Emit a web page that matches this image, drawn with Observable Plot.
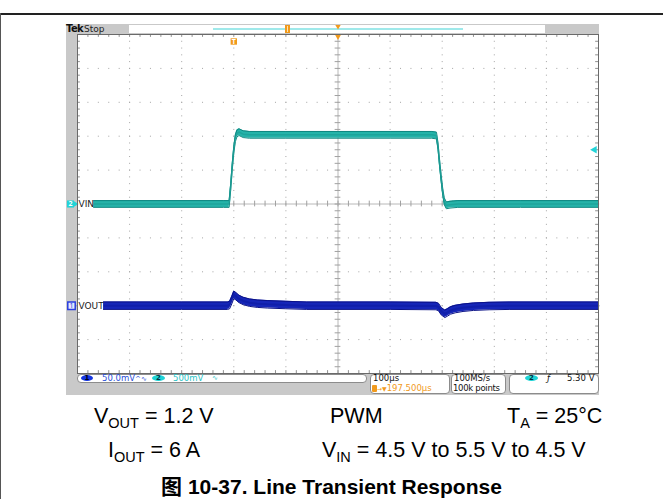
<!DOCTYPE html>
<html><head><meta charset="utf-8">
<script src="https://cdn.jsdelivr.net/npm/d3@7"></script>
<script src="https://cdn.jsdelivr.net/npm/@observablehq/plot@0.6"></script>
<style>
body{margin:0;background:#fff}
#page{position:relative;width:663px;height:499px;overflow:hidden;background:#fff;font-family:"Liberation Sans",Arial,"Noto Sans CJK SC",sans-serif}
.abs{position:absolute}
.st{position:absolute;font-family:"DejaVu Sans",sans-serif;font-size:8.5px;line-height:9px;white-space:nowrap;color:#111}
.box{position:absolute;background:#fff;border:1px solid #8c8c8c;border-radius:4px;box-sizing:border-box}
.ell{position:absolute;border-radius:50%;font-family:"DejaVu Sans",sans-serif;font-size:7px;line-height:6px;text-align:center;font-weight:bold}
.row{position:absolute;font-size:21.5px;line-height:22px;white-space:nowrap;color:#000}
.row .sb{font-size:14.5px;position:relative;top:5px}
#chart{position:absolute;left:0;top:0}
</style></head>
<body>
<div id="page">
  <div class="abs" style="left:0;top:13px;width:663px;height:2px;background:#222"></div>
  <div class="abs" style="left:0;top:13px;width:1px;height:486px;background:#555"></div>
  <div class="abs" style="left:66px;top:24px;width:533px;height:371px;background:#c9c9c9"></div>
  <div class="abs" style="left:129px;top:25px;width:416px;height:8px;background:#fff"></div>
  <div class="abs" style="left:213px;top:28px;width:250px;height:2px;background:#9fe9ea"></div>
  <div class="abs" style="left:285px;top:25px;width:5px;height:8px;background:#f19a1c"></div>
  <div class="abs" style="left:287px;top:26px;width:1px;height:6px;background:#ffe3b0"></div>
  <div class="st" style="left:66px;top:24px;font-size:10px;line-height:10px;font-weight:bold;letter-spacing:-0.6px">Tek</div>
  <div class="st" style="left:84px;top:24px;font-size:9px;line-height:10px;color:#222">Stop</div>
  <div id="chart"></div>

  <div class="box" style="left:77px;top:374px;width:290px;height:9px"></div>
  <div class="ell" style="left:81px;top:375px;width:12px;height:6px;background:#1435e0;color:#001">1</div>
  <div class="st" style="left:102px;top:374px;color:#2a4fd8">50.0mV<span style="font-size:7px">^∿</span></div>
  <div class="ell" style="left:152px;top:375px;width:13px;height:6px;background:#1ed3d6;color:#034">2</div>
  <div class="st" style="left:173px;top:374px;color:#2cc4c6">500mV</div>
  <div class="st" style="left:212px;top:374px;color:#2cc4c6;font-size:7px">∿</div>

  <div class="box" style="left:370px;top:374px;width:80px;height:20px"></div>
  <div class="st" style="left:373px;top:374px">100µs</div>
  <div class="abs" style="left:372px;top:385px;width:5px;height:7px;background:#f19a1c;border-radius:1px"></div>
  <div class="st" style="left:377px;top:384px;color:#f19a1c"><span style="font-size:6px">→▼</span>197.500µs</div>

  <div class="box" style="left:451px;top:374px;width:55px;height:20px"></div>
  <div class="st" style="left:454px;top:374px">100MS/s</div>
  <div class="st" style="left:453px;top:384px;letter-spacing:-0.3px">100k points</div>

  <div class="box" style="left:509px;top:374px;width:90px;height:20px"></div>
  <div class="ell" style="left:525px;top:375px;width:13px;height:6px;background:#1ed3d6;color:#034">2</div>
  <div class="st" style="left:547px;top:374px;font-style:italic">ƒ</div>
  <div class="st" style="left:567px;top:374px">5.30 V</div>

  <div class="row" style="left:94px;top:405px">V<span class="sb">OUT</span> = 1.2 V</div>
  <div class="row" style="left:330px;top:405px">PWM</div>
  <div class="row" style="left:507px;top:405px">T<span class="sb">A</span> = 25°C</div>
  <div class="row" style="left:108px;top:439px">I<span class="sb">OUT</span> = 6 A</div>
  <div class="row" style="left:322px;top:439px">V<span class="sb">IN</span> = 4.5 V to 5.5 V to 4.5 V</div>
  <div class="row" style="left:0;width:663px;text-align:center;top:476px;font-weight:bold;font-size:21px">图 10-37. Line Transient Response</div>
</div>
<script>
// ---- data ----
// time in µs (100 µs/div, 10 divisions), trigger at 300 µs
const vinTime  = [0, 280, 291, 294, 297, 300, 303, 306, 310, 318, 330, 400, 500, 600, 680, 689, 692, 695, 698, 701, 704, 708, 715, 730, 850, 1000];
const vinVolts = [4.5, 4.5, 4.5, 4.75, 5.05, 5.3, 5.47, 5.54, 5.56, 5.53, 5.52, 5.52, 5.52, 5.52, 5.52, 5.51, 5.35, 5.1, 4.88, 4.68, 4.54, 4.48, 4.49, 4.5, 4.5, 4.5];
const voutTime = [0, 200, 288, 292, 296, 300, 304, 310, 318, 330, 345, 365, 400, 440, 600, 688, 693, 698, 705, 710, 716, 725, 740, 760, 790, 830, 1000];
const voutMv   = [0, 0, 0, 1, 8, 16, 14, 10, 7, 4.5, 3, 2, 1, 0, 0, -0.5, -2, -8, -12, -10, -7, -5, -3, -1.5, -0.5, 0, 0];
const triggerTime = [300];
const triggerLevel = [5.30];      // V, channel 2
const recordCenter = [500];
// channel settings
const VIN_REF = 4.5, VIN_SCALE = 0.5, VIN_POS = 0;       // V/div, div
const VOUT_SCALE = 50, VOUT_POS = -3;                     // mV/div, div
const VIN_NOISE = 0.05, VOUT_NOISE = 5.5;                 // half band width
const gridX = [100,200,300,400,600,700,800,900];
const gridY = [-4,-3,-2,-1,1,2,3,4];

const vinDiv = v => (v - VIN_REF) / VIN_SCALE + VIN_POS;
const voutDiv = mv => mv / VOUT_SCALE + VOUT_POS;
const vin = vinTime.map((t, i) => ({t, v: vinVolts[i]}));
const vout = voutTime.map((t, i) => ({t, v: voutMv[i]}));

const minorX = d3.range(0, 1000.01, 20);
const minorY = d3.range(-5, 5.01, 0.2);
const TK_US = 5.5, TK_DIV = 0.085;
const dotCol = "#a4a4a4";

const chart = Plot.plot({
  width: 663, height: 400,
  marginLeft: 77, marginRight: 65, marginTop: 34, marginBottom: 27,
  x: {domain: [0, 1000], axis: null},
  y: {domain: [-5, 5], axis: null},
  style: {background: "transparent", overflow: "visible"},
  marks: [
    Plot.frame({fill: "white", stroke: null}),
    Plot.ruleX(gridX, {stroke: dotCol, strokeDasharray: "1,5.78"}),
    Plot.ruleY(gridY, {stroke: dotCol, strokeDasharray: "1,9.42"}),
    Plot.ruleX([500], {stroke: "#b8b8b8"}),
    Plot.ruleY([0], {stroke: "#b8b8b8"}),
    Plot.ruleY(minorY, {x1: 500 - TK_US, x2: 500 + TK_US, stroke: "#a0a0a0"}),
    Plot.ruleX(minorX, {y1: -TK_DIV, y2: TK_DIV, stroke: "#a0a0a0"}),
    Plot.ruleX(minorX, {y1: 5 - TK_DIV, y2: 5, stroke: "#909090"}),
    Plot.ruleX(minorX, {y1: -5, y2: -5 + TK_DIV, stroke: "#909090"}),
    Plot.ruleY(minorY, {x1: 0, x2: TK_US, stroke: "#909090"}),
    Plot.ruleY(minorY, {x1: 1000 - TK_US, x2: 1000, stroke: "#909090"}),
    // VIN trace (channel 2)
    Plot.areaY(vin, {x: "t", y1: d => vinDiv(d.v - VIN_NOISE), y2: d => vinDiv(d.v + VIN_NOISE), fill: "#25b3a9"}),
    Plot.line(vin, {x: "t", y: d => vinDiv(d.v + VIN_NOISE), stroke: "#0f8680", strokeWidth: 1}),
    Plot.line(vin, {x: "t", y: d => vinDiv(d.v - VIN_NOISE), stroke: "#128a83", strokeWidth: 1}),
    Plot.line(vin, {x: "t", y: d => vinDiv(d.v), stroke: "#1b9e95", strokeWidth: 1.5, strokeOpacity: 0.7}),
    // VOUT trace (channel 1)
    Plot.areaY(vout, {x: "t", y1: d => voutDiv(d.v - VOUT_NOISE), y2: d => voutDiv(d.v + VOUT_NOISE), fill: "#1626b8"}),
    Plot.line(vout, {x: "t", y: d => voutDiv(d.v + VOUT_NOISE), stroke: "#0b1287", strokeWidth: 1}),
    Plot.line(vout, {x: "t", y: d => voutDiv(d.v - VOUT_NOISE), stroke: "#0b1287", strokeWidth: 1}),
    Plot.line(vout, {x: "t", y: d => voutDiv(d.v), stroke: "#0d1aa0", strokeWidth: 2, strokeOpacity: 0.6}),
    // channel labels
    Plot.rect([VIN_POS], {x1: 0, x2: 31, y1: d => d - 0.14, y2: d => d + 0.14, fill: "white"}),
    Plot.text(["VIN"], {x: 0, y: VIN_POS, dx: 1, textAnchor: "start", fontSize: 9, fill: "#222", fontFamily: "DejaVu Sans"}),
    Plot.rect([VOUT_POS], {x1: 0, x2: 50, y1: d => d - 0.15, y2: d => d + 0.15, fill: "white"}),
    Plot.text(["VOUT"], {x: 0, y: VOUT_POS, dx: 1, textAnchor: "start", fontSize: 9, fill: "#222", fontFamily: "DejaVu Sans"}),
    // channel ground markers in the left strip
    Plot.dot([VIN_POS], {x: 0, y: d => d, dx: -7, symbol: "square", r: 4, fill: "#22d4d8"}),
    Plot.dot([VIN_POS], {x: 0, y: d => d, dx: -2, symbol: "triangle", rotate: 90, r: 2, fill: "#22d4d8"}),
    Plot.text(["2"], {x: 0, y: VIN_POS, dx: -7, fontSize: 7, fill: "#fff", fontWeight: "bold"}),
    Plot.dot([VOUT_POS], {x: 0, y: d => d, dx: -6, symbol: "square", r: 4.2, fill: "#e4e8ff", stroke: "#2a3fe0"}),
    Plot.text(["1"], {x: 0, y: VOUT_POS, dx: -6, fontSize: 7, fill: "#2a3fe0"}),
    // trigger markers
    Plot.dot(triggerTime, {x: d => d, y: 5, dy: 7, symbol: "square", r: 3.6, fill: "#f19a1c"}),
    Plot.text(triggerTime, {x: d => d, y: 5, dy: 7, text: () => "T", fontSize: 7, fill: "white", fontWeight: "bold"}),
    Plot.dot(triggerLevel, {x: 1000, y: d => vinDiv(d), dx: -4, symbol: "triangle", rotate: -90, r: 2.8, fill: "#22d4d8"}),
    Plot.dot(recordCenter, {x: d => d, y: 5, dy: 2, symbol: "triangle", rotate: 180, r: 2.2, fill: "#f19a1c"}),
    Plot.dot(recordCenter, {x: d => d, y: 5, dy: -8, symbol: "triangle", rotate: 180, r: 2, fill: "#f19a1c"}),
    Plot.frame({stroke: "#6a6a6a"})
  ]
});
document.getElementById("chart").appendChild(chart);
</script>
</body></html>
